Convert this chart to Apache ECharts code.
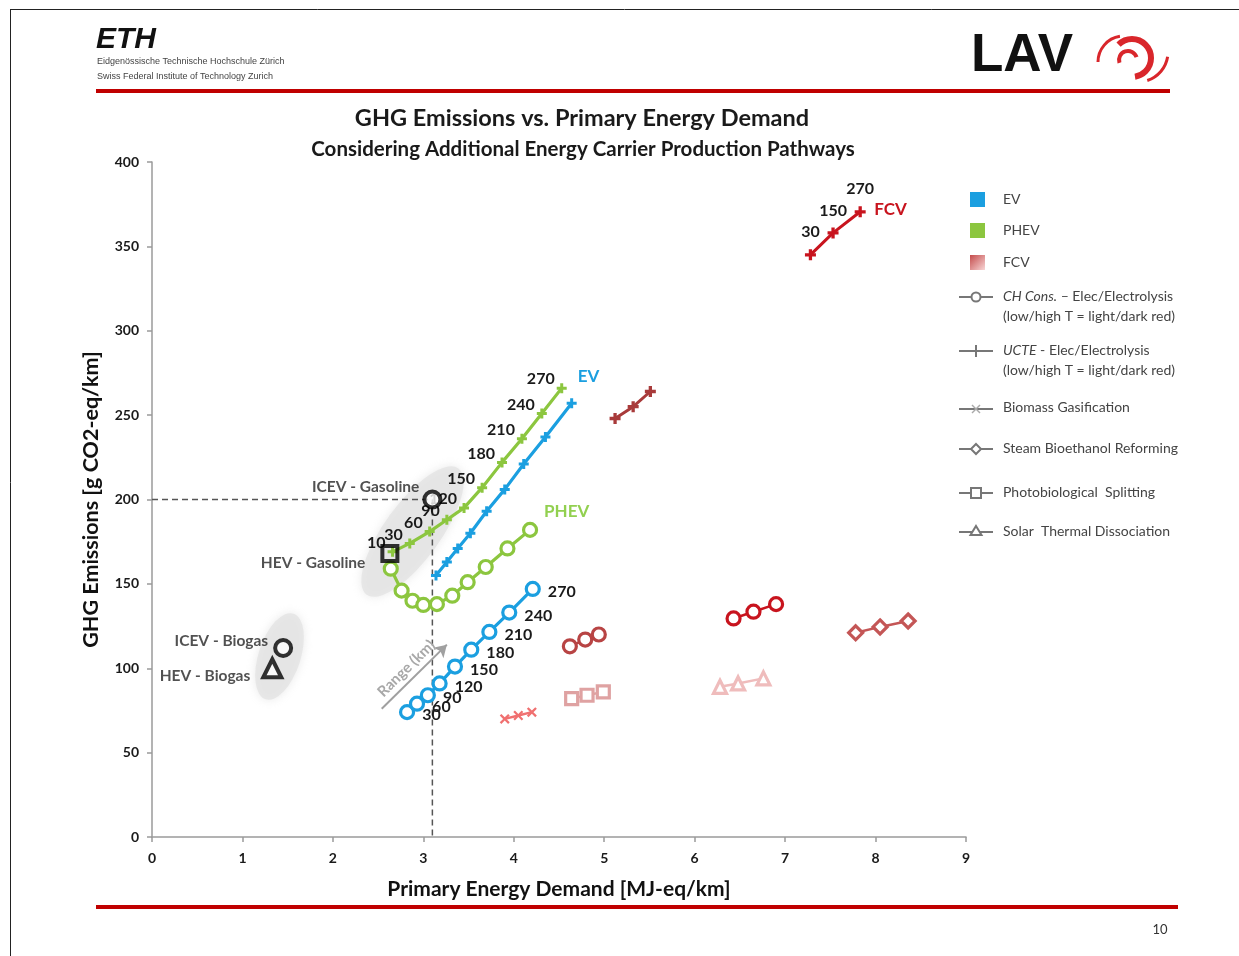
<!DOCTYPE html>
<html>
<head>
<meta charset="utf-8">
<script src="https://cdn.jsdelivr.net/npm/echarts@6.0.0/dist/echarts.min.js"></script>
<style>
  html, body { margin: 0; padding: 0; background: #ffffff; }
  #chart { width: 1239px; height: 956px; }
</style>
</head>
<body>
<div id="chart"></div>
<script>
// ---------------- values: [Primary Energy Demand MJ-eq/km, GHG g CO2-eq/km] ----------------
const rangesPhev = [10, 30, 60, 90, 120, 150, 180, 210, 240, 270];
const rangesEv = [30, 60, 90, 120, 150, 180, 210, 240, 270];
const rangesFcv = [30, 150, 270];

// PHEV / EV driven on UCTE electricity mix
const phevUcte = [[2.66, 169], [2.85, 174], [3.07, 181], [3.26, 188], [3.45, 195], [3.65, 207], [3.87, 222], [4.09, 236], [4.31, 251], [4.53, 266]];
const evUcte = [[3.14, 155], [3.26, 163], [3.38, 171], [3.52, 180], [3.70, 193], [3.90, 206], [4.11, 221], [4.35, 237], [4.64, 257]];
// PHEV / EV driven on Swiss consumer mix
const phevCh = [[2.64, 159], [2.76, 146], [2.88, 140], [3.00, 137.5], [3.15, 138], [3.32, 143], [3.49, 151], [3.69, 160], [3.93, 171], [4.18, 182]];
const evCh = [[2.82, 74], [2.93, 79], [3.05, 84], [3.18, 91], [3.35, 101], [3.53, 111], [3.73, 121.5], [3.95, 133], [4.21, 147]];

// FCV hydrogen pathways (ranges 30 / 150 / 270 km)
const fcvUcteHigh = [[7.28, 345], [7.53, 358], [7.83, 370.5]];
const fcvUcteLow = [[5.12, 248], [5.32, 255], [5.51, 264]];
const fcvChHigh = [[6.43, 129.5], [6.65, 133.5], [6.90, 138]];
const fcvChLow = [[4.62, 113], [4.79, 117], [4.94, 120]];
const fcvBiomass = [[3.90, 70], [4.05, 72], [4.20, 74]];
const fcvSteam = [[7.78, 121], [8.05, 124.5], [8.36, 128]];
const fcvPhoto = [[4.64, 82], [4.81, 84], [4.99, 86]];
const fcvSolar = [[6.28, 89], [6.48, 91], [6.76, 94]];

// conventional reference vehicles
const icevGasoline = [3.1, 200];
const hevGasoline = [2.63, 168];
const icevBiogas = [1.45, 112];
const hevBiogas = [1.33, 100];

// ---------------- styling ----------------
const FONT = 'Lato, "Open Sans", sans-serif';
const C = {
  ev: '#1b9fe0',
  phev: '#8cc63f',
  phevText: '#92d050',
  red: '#c8141e',
  redBrown: '#a83a3a',
  redMid: '#b84444',
  steam: '#c45656',
  biomass: '#f07070',
  photo: '#dfa2a2',
  solar: '#efbcbc',
  axis: '#9a9a9a',
  text: '#1a1a1a'
};
const PLUS = 'path://M3.5,0H6.5V3.5H10V6.5H6.5V10H3.5V6.5H0V3.5H3.5Z';
const CROSS = 'path://M0,1.6L1.6,0L5,3.4L8.4,0L10,1.6L6.6,5L10,8.4L8.4,10L5,6.6L1.6,10L0,8.4L3.4,5Z';

const rangeLabel = (ranges, extra) => Object.assign({
  show: true,
  formatter: p => String(ranges[p.dataIndex]),
  fontFamily: FONT, fontWeight: 'bold', fontSize: 16, color: C.text
}, extra);

function curve(name, data, color, symbol, size, hollow, width, extra) {
  return Object.assign({
    name, type: 'line', data, symbol, symbolSize: size, z: 3,
    showSymbol: true,
    lineStyle: { color, width },
    itemStyle: hollow
      ? { color: '#ffffff', borderColor: color, borderWidth: 3.2 }
      : { color, borderWidth: 0 },
    emphasis: { disabled: true }
  }, extra || {});
}

function vehicle(name, point, symbol, size, fill, labelExtra) {
  return {
    name, type: 'scatter', data: [point], symbol, symbolSize: size, z: 6,
    itemStyle: { color: fill, borderColor: '#000000', borderWidth: 4 },
    label: Object.assign({
      show: true, formatter: name, position: 'left',
      fontFamily: FONT, fontWeight: 'bold', fontSize: 15.5, color: '#262626'
    }, labelExtra),
    emphasis: { disabled: true }
  };
}

function halo(center, size, rotate) {
  return {
    type: 'scatter', data: [center], symbol: 'circle', symbolSize: size,
    symbolRotate: rotate, z: 1, silent: true,
    itemStyle: { color: '#e4e4e4', shadowBlur: 10, shadowColor: '#e4e4e4' }
  };
}

const series = [
  halo([2.88, 181], [56, 156], -36),
  halo([1.41, 107], [42, 90], -18),

  // reference lines through the gasoline ICEV
  {
    type: 'line', data: [[0, icevGasoline[1]], icevGasoline], symbol: 'none', z: 2, silent: true,
    lineStyle: { color: '#555555', width: 1.5, type: [6, 4] }
  },
  {
    type: 'line', data: [icevGasoline, [icevGasoline[0], 0]], symbol: 'none', z: 2, silent: true,
    lineStyle: { color: '#555555', width: 1.5, type: [6, 4] },
    markLine: {
      silent: true, symbol: ['none', 'arrow'], symbolSize: [11, 12],
      lineStyle: { color: '#a0a0a0', width: 2, type: 'solid' },
      label: {
        show: true, position: 'insideMiddleTop', formatter: 'Range (km)', distance: 4,
        fontFamily: FONT, fontWeight: 'bold', fontSize: 15, color: '#a8a8a8'
      },
      data: [[{ coord: [2.54, 76] }, { coord: [3.26, 114] }]]
    }
  },

  curve('PHEV UCTE', phevUcte, C.phev, PLUS, 10, false, 3.2, {
    label: rangeLabel(rangesPhev, { position: 'left', distance: 2, offset: [0, -9] })
  }),
  curve('EV UCTE', evUcte, C.ev, PLUS, 10, false, 3.2, {
    endLabel: {
      show: true, formatter: 'EV', distance: 6, offset: [0, -27],
      fontFamily: FONT, fontWeight: 'bold', fontSize: 17, color: C.ev
    }
  }),
  curve('PHEV CH', phevCh, C.phev, 'circle', 13, true, 3.2, {
    endLabel: {
      show: true, formatter: 'PHEV', distance: 14, offset: [0, -18],
      fontFamily: FONT, fontWeight: 'bold', fontSize: 17, color: C.phevText
    }
  }),
  curve('EV CH', evCh, C.ev, 'circle', 13, true, 3.2, {
    label: rangeLabel(rangesEv, { position: 'right', distance: 7, offset: [0, 3] })
  }),

  curve('FCV UCTE high T', fcvUcteHigh, C.red, PLUS, 11, false, 3, {
    label: rangeLabel(rangesFcv, { position: 'top', distance: 9 }),
    endLabel: {
      show: true, formatter: 'FCV', distance: 14, offset: [0, -2],
      fontFamily: FONT, fontWeight: 'bold', fontSize: 17, color: C.red
    }
  }),
  curve('FCV UCTE low T', fcvUcteLow, C.redBrown, PLUS, 11, false, 3),
  curve('FCV CH high T', fcvChHigh, C.red, 'circle', 13, true, 2.5),
  curve('FCV CH low T', fcvChLow, C.redMid, 'circle', 13, true, 2.5),
  curve('FCV Biomass', fcvBiomass, C.biomass, CROSS, 10, false, 2.5),
  curve('FCV Steam', fcvSteam, C.steam, 'diamond', 14, true, 2.5),
  curve('FCV Photo', fcvPhoto, C.photo, 'rect', 12, true, 2.5),
  curve('FCV Solar', fcvSolar, C.solar, 'triangle', 13, true, 2.5),

  vehicle('ICEV - Gasoline', icevGasoline, 'circle', 16, '#ffffff', { distance: 3, offset: [0, -13] }),
  vehicle('HEV - Gasoline', hevGasoline, 'rect', 15, 'rgba(0,0,0,0)', { distance: 15, offset: [0, 9] }),
  vehicle('ICEV - Biogas', icevBiogas, 'circle', 16, '#ffffff', { distance: 5, offset: [0, -7] }),
  vehicle('HEV - Biogas', hevBiogas, 'triangle', 18, '#ffffff', { distance: 11, offset: [0, 8] })
];

// ---------------- page furniture and legend ----------------
const LEG_X = 976, LEG_TX = 1003;
const legendTextStyle = { fontFamily: FONT, fontSize: 14, fill: '#444444', verticalAlign: 'middle' };
function legendText(y, text) {
  return {
    type: 'text', x: LEG_TX, y,
    style: Object.assign({}, legendTextStyle, {
      text, lineHeight: 20,
      rich: { i: { fontStyle: 'italic', fontFamily: FONT, fontSize: 14, fill: '#444444' } }
    })
  };
}
function legendLine(y) {
  return { type: 'line', shape: { x1: 959, y1: y, x2: 993, y2: y }, style: { stroke: '#777777', lineWidth: 2 } };
}

const graphics = [
  // slide frame
  { type: 'line', shape: { x1: 10, y1: 9.5, x2: 1239, y2: 9.5 }, style: { stroke: '#222', lineWidth: 1 } },
  { type: 'line', shape: { x1: 10.5, y1: 9, x2: 10.5, y2: 956 }, style: { stroke: '#222', lineWidth: 1 } },
  // header
  { type: 'text', x: 96, y: 25, style: { text: 'ETH', font: 'italic bold 30px "Liberation Sans"', fill: '#111' } },
  { type: 'text', x: 97, y: 57, style: { text: 'Eidgenössische Technische Hochschule Zürich', font: '9px "Liberation Sans"', fill: '#444' } },
  { type: 'text', x: 97, y: 72, style: { text: 'Swiss Federal Institute of Technology Zurich', font: '9px "Liberation Sans"', fill: '#444' } },
  { type: 'rect', shape: { x: 96, y: 89, width: 1074, height: 4 }, style: { fill: '#c00000' } },
  { type: 'text', x: 971, y: 30, style: { text: 'LAV', font: 'bold 53px "Liberation Sans"', fill: '#111' } },
  { type: 'arc', shape: { cx: 1124, cy: 62, r: 26, startAngle: Math.PI * 1.0, endAngle: Math.PI * 1.45 }, style: { stroke: '#d9262b', lineWidth: 3, fill: null } },
  { type: 'arc', shape: { cx: 1132, cy: 58, r: 19, startAngle: Math.PI * 1.25, endAngle: Math.PI * 2.45 }, style: { stroke: '#d9262b', lineWidth: 6, fill: null } },
  { type: 'arc', shape: { cx: 1128, cy: 60, r: 9, startAngle: Math.PI * 0.9, endAngle: Math.PI * 1.9 }, style: { stroke: '#d9262b', lineWidth: 4, fill: null } },
  { type: 'arc', shape: { cx: 1138, cy: 52, r: 30, startAngle: Math.PI * 0.05, endAngle: Math.PI * 0.4 }, style: { stroke: '#d9262b', lineWidth: 3, fill: null } },
  // titles
  { type: 'text', x: 582, y: 118, style: { text: 'GHG Emissions vs. Primary Energy Demand', fontFamily: FONT, fontWeight: 'bold', fontSize: 23.5, fill: '#1a1a1a', align: 'center', verticalAlign: 'middle' } },
  { type: 'text', x: 583, y: 149, style: { text: 'Considering Additional Energy Carrier Production Pathways', fontFamily: FONT, fontWeight: 'bold', fontSize: 20.5, fill: '#1a1a1a', align: 'center', verticalAlign: 'middle' } },
  // footer
  { type: 'rect', shape: { x: 96, y: 905, width: 1082, height: 4 }, style: { fill: '#c00000' } },
  { type: 'text', x: 1160, y: 930, style: { text: '10', fontFamily: FONT, fontSize: 13, fill: '#333', align: 'center', verticalAlign: 'middle' } },

  // legend: vehicle colours
  { type: 'rect', shape: { x: 970, y: 192, width: 15, height: 15 }, style: { fill: C.ev } },
  legendText(199, 'EV'),
  { type: 'rect', shape: { x: 970, y: 223, width: 15, height: 15 }, style: { fill: C.phev } },
  legendText(230, 'PHEV'),
  { type: 'rect', shape: { x: 970, y: 255, width: 15, height: 15 }, style: { fill: { type: 'linear', x: 0, y: 0, x2: 1, y2: 1, colorStops: [{ offset: 0, color: '#c44b4b' }, { offset: 1, color: '#f8d6d6' }] } } },
  legendText(262, 'FCV'),

  // legend: pathway markers
  legendLine(297),
  { type: 'circle', shape: { cx: LEG_X, cy: 297, r: 4.5 }, style: { fill: '#fff', stroke: '#777', lineWidth: 2 } },
  legendText(306, '{i|CH Cons.} – Elec/Electrolysis\n(low/high T = light/dark red)'),

  legendLine(351),
  { type: 'line', shape: { x1: LEG_X, y1: 345, x2: LEG_X, y2: 357 }, style: { stroke: '#777', lineWidth: 2 } },
  legendText(360, '{i|UCTE} - Elec/Electrolysis\n(low/high T = light/dark red)'),

  legendLine(409),
  { type: 'line', shape: { x1: LEG_X - 4, y1: 405, x2: LEG_X + 4, y2: 413 }, style: { stroke: '#aaa', lineWidth: 1.5 } },
  { type: 'line', shape: { x1: LEG_X - 4, y1: 413, x2: LEG_X + 4, y2: 405 }, style: { stroke: '#aaa', lineWidth: 1.5 } },
  legendText(407, 'Biomass Gasification'),

  legendLine(449),
  { type: 'polygon', shape: { points: [[LEG_X, 444], [LEG_X + 5, 449], [LEG_X, 454], [LEG_X - 5, 449]] }, style: { fill: '#fff', stroke: '#777', lineWidth: 2 } },
  legendText(448, 'Steam Bioethanol Reforming'),

  legendLine(493),
  { type: 'rect', shape: { x: LEG_X - 5, y: 488, width: 10, height: 10 }, style: { fill: '#fff', stroke: '#777', lineWidth: 2 } },
  legendText(492, 'Photobiological  Splitting'),

  legendLine(532),
  { type: 'polygon', shape: { points: [[LEG_X, 526], [LEG_X + 5.5, 535], [LEG_X - 5.5, 535]] }, style: { fill: '#fff', stroke: '#777', lineWidth: 2 } },
  legendText(531, 'Solar  Thermal Dissociation')
];

const axisLabelStyle = { color: '#1a1a1a', fontWeight: 'bold', fontSize: 14, fontFamily: FONT };
const axisNameStyle = { color: '#111', fontWeight: 'bold', fontSize: 21, fontFamily: FONT };

const option = {
  animation: false,
  backgroundColor: '#ffffff',
  grid: { left: 152, right: 273, top: 162, bottom: 119, containLabel: false, outerBoundsMode: 'none' },
  xAxis: {
    type: 'value', min: 0, max: 9, interval: 1,
    axisLine: { show: true, onZero: false, lineStyle: { color: C.axis, width: 1.5 } },
    axisTick: { show: true, length: 5, lineStyle: { color: C.axis, width: 1.5 } },
    splitLine: { show: false },
    axisLabel: Object.assign({ margin: 14 }, axisLabelStyle),
    name: 'Primary Energy Demand [MJ-eq/km]', nameLocation: 'middle', nameGap: 42,
    nameTextStyle: axisNameStyle
  },
  yAxis: {
    type: 'value', min: 0, max: 400, interval: 50,
    axisLine: { show: true, onZero: false, lineStyle: { color: C.axis, width: 1.5 } },
    axisTick: { show: true, length: 5, lineStyle: { color: C.axis, width: 1.5 } },
    splitLine: { show: false },
    axisLabel: Object.assign({ margin: 13 }, axisLabelStyle),
    name: 'GHG Emissions [g CO2-eq/km]', nameLocation: 'middle', nameGap: 50, nameRotate: 90,
    nameTextStyle: Object.assign({}, axisNameStyle, { fontSize: 21.5 })
  },
  series,
  graphic: { elements: graphics }
};

const chart = echarts.init(document.getElementById('chart'));
chart.setOption(option);
</script>
</body>
</html>
